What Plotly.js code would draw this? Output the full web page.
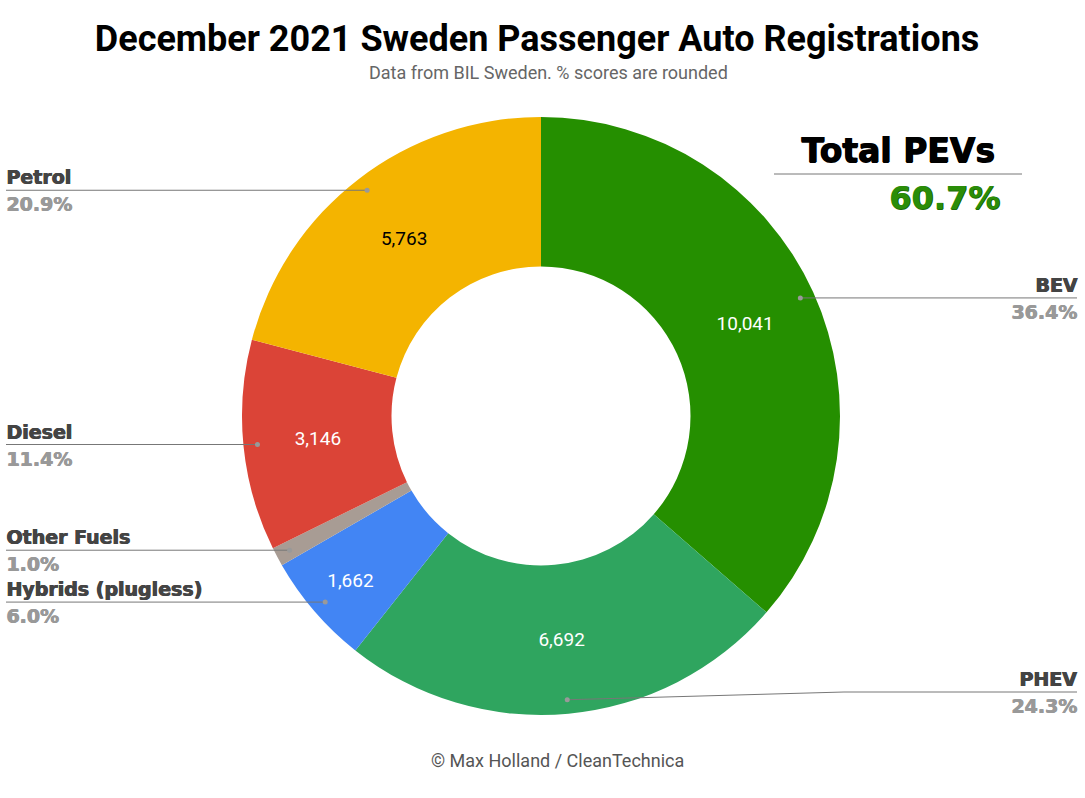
<!DOCTYPE html>
<html><head><meta charset="utf-8">
<script src="https://cdn.plot.ly/plotly-3.0.1.min.js"></script>
<style>html,body{margin:0;padding:0;background:#fff}#chart{width:1085px;height:798px}</style>
</head><body><div id="chart"></div>
<script>
// ---- data ----
const categories = ['BEV', 'PHEV', 'Hybrids (plugless)', 'Other Fuels', 'Diesel', 'Petrol'];
const registrations = [10041, 6692, 1662, 280, 3146, 5763];
const pevCategories = ['BEV', 'PHEV'];

// ---- styles ----
const sliceColors = ['#258f00', '#2fa55f', '#4285f4', '#a89c94', '#db4437', '#f4b400'];
const valueTextColors = ['#ffffff', '#ffffff', '#ffffff', '#ffffff', '#ffffff', '#000000'];
const heavyFont = 'DejaVu Sans';

const W = 1085, H = 798;
const px = x => x / W;
const py = y => 1 - y / H;

// pie placement (pixels)
const pieBox = {x0: 242, x1: 840, y0: 117, y1: 715};
const cx = (pieBox.x0 + pieBox.x1) / 2, cy = (pieBox.y0 + pieBox.y1) / 2;
const R = Math.min(pieBox.x1 - pieBox.x0, pieBox.y1 - pieBox.y0) / 2;
const dotRadiusFrac = 0.953;
const leftEdge = 6, rightEdge = 1077, maxLabelY = 692;
const minShareForValueText = 2; // percent

const total = registrations.reduce((a, b) => a + b, 0);
const sharePct = registrations.map(v => 100 * v / total);
const shares = sharePct.map(p => p.toFixed(1) + '%');
const pevTotal = registrations.filter((v, i) => pevCategories.includes(categories[i])).reduce((a, b) => a + b, 0);
const pevShare = (100 * pevTotal / total).toFixed(1) + '%';
const valueTemplates = sharePct.map(p => p >= minShareForValueText ? '%{value:,}' : ' ');

const heavy = c => `0.9px 0px 0px ${c}, 0.4px 0.4px 0px ${c}`;

const shapes = [], annotations = [];
let cum = 0;
registrations.forEach((v, i) => {
  const mid = (cum + v / 2) / total;
  cum += v;
  const ang = mid * 2 * Math.PI;
  const dx = cx + dotRadiusFrac * R * Math.sin(ang);
  const dy = cy - dotRadiusFrac * R * Math.cos(ang);
  const right = dx > cx;
  const ly = Math.min(dy, maxLabelY);
  const edge = right ? rightEdge : leftEdge;
  const bend = right ? Math.max(dx, 844) : Math.min(dx, 240);
  shapes.push({type: 'path', xref: 'paper', yref: 'paper',
    path: `M ${px(edge)},${py(ly)} L ${px(bend)},${py(ly)} L ${px(dx)},${py(dy)}`,
    line: {color: '#777777', width: 1}});
  shapes.push({type: 'circle', xref: 'paper', yref: 'paper',
    x0: px(dx - 2.5), x1: px(dx + 2.5), y0: py(dy + 2.5), y1: py(dy - 2.5),
    fillcolor: '#999999', line: {width: 0}});
  annotations.push({xref: 'paper', yref: 'paper', x: px(right ? edge + 2 : edge - 2), y: py(ly),
    xanchor: right ? 'right' : 'left', yanchor: 'bottom', showarrow: false,
    text: '<b>' + categories[i] + '</b>',
    font: {family: heavyFont, size: 19, weight: 'bold', color: '#444444', shadow: heavy('#444444')}});
  annotations.push({xref: 'paper', yref: 'paper', x: px(right ? edge + 2 : edge - 2), y: py(ly + 1),
    xanchor: right ? 'right' : 'left', yanchor: 'top', showarrow: false,
    text: '<b>' + shares[i] + '</b>',
    font: {family: heavyFont, size: 19, weight: 'bold', color: '#999999', shadow: heavy('#999999')}});
});

// Total PEVs box
shapes.push({type: 'line', xref: 'paper', yref: 'paper', x0: px(774), x1: px(1022), y0: py(174), y1: py(174),
  line: {color: '#777777', width: 1}});
annotations.push({xref: 'paper', yref: 'paper', x: px(898), y: py(172), xanchor: 'center', yanchor: 'bottom',
  showarrow: false, text: '<b>Total PEVs</b>',
  font: {family: heavyFont, size: 33, weight: 'bold', color: '#000000', shadow: '1.2px 0px 0px #000000, 0.5px 0.5px 0px #000000'}});
annotations.push({xref: 'paper', yref: 'paper', x: px(1002), y: py(177), xanchor: 'right', yanchor: 'top',
  showarrow: false, text: '<b>' + pevShare + '</b>',
  font: {family: heavyFont, size: 32, weight: 'bold', color: '#2a8d08', shadow: '1px 0px 0px #1d6a05, 0.5px 0.5px 0px #1d6a05'}});

// subtitle & footer
annotations.push({xref: 'paper', yref: 'paper', x: px(548), y: py(73), xanchor: 'center', yanchor: 'middle',
  showarrow: false, text: 'Data from BIL Sweden. % scores are rounded',
  font: {family: 'Roboto', size: 18, color: '#666666'}});
annotations.push({xref: 'paper', yref: 'paper', x: px(557), y: py(760), xanchor: 'center', yanchor: 'middle',
  showarrow: false, text: '© Max Holland / CleanTechnica',
  font: {family: 'Roboto', size: 18, color: '#555555'}});

const trace = {
  type: 'pie',
  labels: categories,
  values: registrations,
  sort: false,
  direction: 'clockwise',
  rotation: 0,
  hole: 0.5,
  domain: {x: [px(pieBox.x0), px(pieBox.x1)], y: [py(pieBox.y1), py(pieBox.y0)]},
  marker: {colors: sliceColors, line: {width: 0}},
  texttemplate: valueTemplates,
  textposition: 'inside',
  insidetextorientation: 'horizontal',
  textfont: {family: 'Roboto', size: 19, color: valueTextColors},
  hoverinfo: 'label+value+percent'
};

const layout = {
  width: W, height: H,
  margin: {l: 0, r: 0, t: 0, b: 0},
  paper_bgcolor: '#ffffff',
  showlegend: false,
  title: {text: 'December 2021 Sweden Passenger Auto Registrations',
    x: 0.495, xanchor: 'center', y: py(38), yanchor: 'middle', yref: 'paper',
    font: {family: 'Roboto', size: 36, weight: 'bold', color: '#000000'}},
  shapes: shapes,
  annotations: annotations
};

Plotly.newPlot('chart', [trace], layout, {displayModeBar: false, staticPlot: true});
</script>
</body></html>
